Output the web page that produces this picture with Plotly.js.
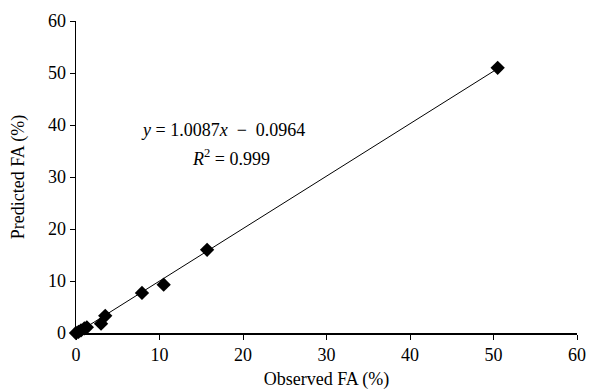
<!DOCTYPE html>
<html>
<head>
<meta charset="utf-8">
<script src="https://cdn.plot.ly/plotly-3.0.1.min.js"></script>
<style>html,body{margin:0;padding:0;background:#fff;}#chart{width:595px;height:390px;}</style>
</head>
<body>
<div id="chart"></div>
<script>
const observed = [0.0, 0.3, 0.6, 1.0, 1.3, 3.0, 3.5, 7.9, 10.5, 15.7, 50.5];
const predicted = [0.0, 0.2, 0.5, 0.9, 1.1, 1.8, 3.3, 7.7, 9.3, 16.0, 51.0];
const slope = 1.0087;
const intercept = -0.0964;
const fitX = [0, 50.5];
const fitY = fitX.map(v => slope * v + intercept);
const xTicks = [0, 10, 20, 30, 40, 50, 60];
const yTicks = [0, 10, 20, 30, 40, 50, 60];

const font = {family: '"Liberation Serif", "DejaVu Serif", serif', size: 18, color: '#000'};

const traces = [
  {x: fitX, y: fitY, mode: 'lines', line: {color: '#000', width: 1}, hoverinfo: 'skip', cliponaxis: false},
  {x: observed, y: predicted, mode: 'markers', marker: {symbol: 'diamond', size: 11, color: '#000'}, cliponaxis: false}
];

const layout = {
  width: 595, height: 390,
  margin: {l: 76, r: 18, t: 21, b: 57},
  paper_bgcolor: '#fff', plot_bgcolor: '#fff',
  showlegend: false,
  font: font,
  xaxis: {
    range: [0, 60], tickvals: xTicks, ticktext: xTicks.map(String),
    showgrid: false, zeroline: false, showline: true, linecolor: '#000', linewidth: 1.5,
    ticks: 'outside', ticklen: 5, tickcolor: '#000', tickwidth: 1,
    title: {text: 'Observed FA (%)', font: font, standoff: 8}
  },
  yaxis: {
    range: [0, 60], tickvals: yTicks, ticktext: yTicks.map(String),
    showgrid: false, zeroline: false, showline: true, linecolor: '#000', linewidth: 1.5,
    ticks: 'outside', ticklen: 5, tickcolor: '#000', tickwidth: 1,
    title: {text: 'Predicted FA (%)', font: font, standoff: 18}
  },
  annotations: [
    {x: 17.6, y: 39.0, xref: 'x', yref: 'y', showarrow: false, font: font,
     text: '<i>y</i> = 1.0087<i>x</i>&nbsp; − &nbsp;0.0964'},
    {x: 18.6, y: 33.8, xref: 'x', yref: 'y', showarrow: false, font: font,
     text: '<i>R</i><sup>2</sup> = 0.999'}
  ]
};

Plotly.newPlot('chart', traces, layout, {displayModeBar: false, staticPlot: true});
</script>
</body>
</html>
